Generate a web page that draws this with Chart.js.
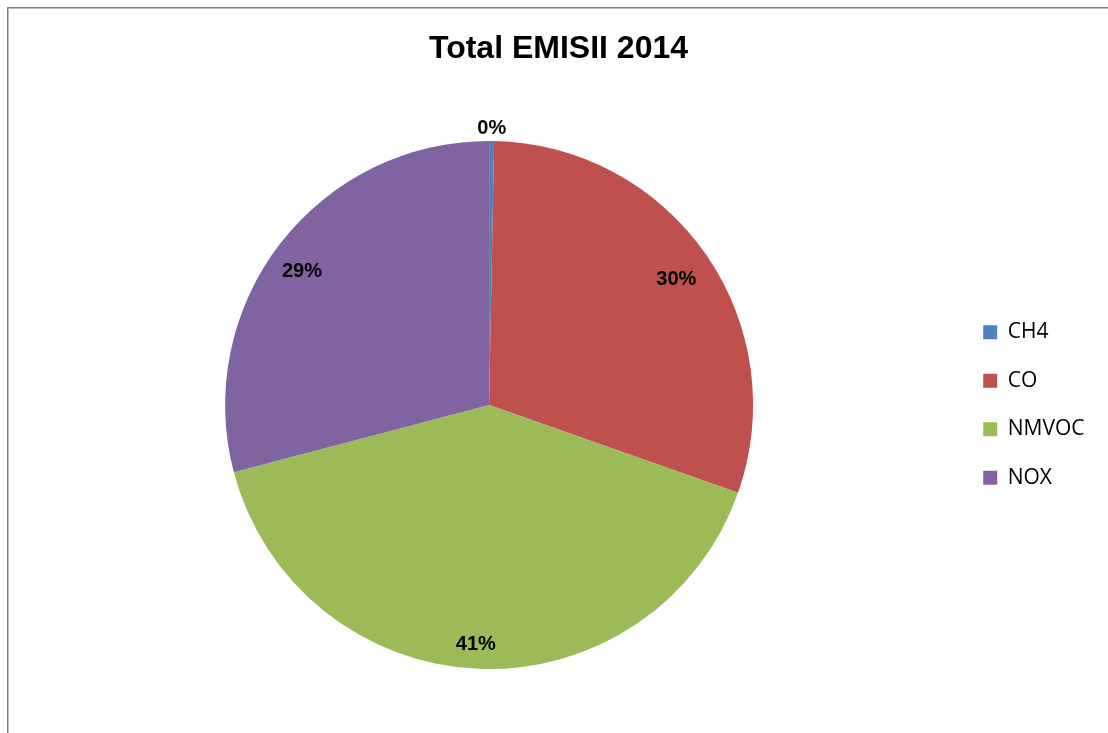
<!DOCTYPE html>
<html>
<head>
<meta charset="utf-8">
<script src="https://cdn.jsdelivr.net/npm/chart.js@4.4.0/dist/chart.umd.min.js"></script>
<style>
    html, body { margin: 0; padding: 0; background: #fff; }
    #wrap { position: relative; width: 1108px; height: 733px; overflow: hidden; }
    #frame {
        position: absolute; left: 7px; top: 7px; right: -10px; bottom: -10px;
        border-left: 1px solid #7f7f7f; border-top: 1px solid #7f7f7f;
        box-shadow: inset 1px 1px 0 #bdbdbd;
    }
    canvas { position: absolute; left: 0; top: 0; }
</style>
</head>
<body>
<div id="wrap">
    <div id="frame"></div>
    <canvas id="emisii-chart" width="1108" height="733"></canvas>
</div>
<script>
const labels = ['CH4', 'CO', 'NMVOC', 'NOX'];
const shares = [0.3, 30.1, 40.5, 29.1];
const colors = ['#4f81bd', '#c0504d', '#9bbb59', '#8064a2'];

// percent labels, placed along each slice's bisector (fraction of the radius)
const pctLabels = {
    id: 'pctLabels',
    afterDatasetsDraw(chart, args, opts) {
        const ctx = chart.ctx;
        const meta = chart.getDatasetMeta(0);
        const data = chart.data.datasets[0].data;
        const total = data.reduce((a, b) => a + b, 0);
        ctx.save();
        ctx.font = opts.font;
        ctx.fillStyle = '#000';
        ctx.textAlign = 'center';
        ctx.textBaseline = 'middle';
        meta.data.forEach((arc, i) => {
            const { x, y, startAngle, endAngle, outerRadius } = arc.getProps(['x', 'y', 'startAngle', 'endAngle', 'outerRadius'], true);
            const mid = (startAngle + endAngle) / 2 + (opts.turn[i] || 0);
            const r = outerRadius * opts.radius[i];
            const text = Math.round(data[i] / total * 100) + '%';
            ctx.fillText(text, x + Math.cos(mid) * r, y + Math.sin(mid) * r + opts.dy);
        });
        ctx.restore();
    }
};

const ctx = document.getElementById('emisii-chart').getContext('2d');
new Chart(ctx, {
    type: 'pie',
    data: {
        labels: labels,
        datasets: [{
            data: shares,
            backgroundColor: colors,
            borderWidth: 0,
            hoverOffset: 0
        }]
    },
    options: {
        responsive: false,
        animation: false,
        layout: {
            padding: { left: 22.5, right: 13.5, top: 0, bottom: 64 }
        },
        plugins: {
            title: {
                display: true,
                text: 'Total EMISII 2014',
                color: '#000',
                font: { family: '"Liberation Sans", Arial, sans-serif', size: 32, weight: 'bold' },
                padding: { top: 29.8, bottom: 72.8 }
            },
            legend: {
                position: 'right',
                fullSize: false,
                labels: {
                    color: '#000',
                    font: { family: '"Open Sans", sans-serif', size: 21 },
                    boxWidth: 14,
                    boxHeight: 14,
                    padding: 27.5
                }
            },
            tooltip: { enabled: false },
            pctLabels: {
                font: 'bold 20px "Liberation Sans", Arial, sans-serif',
                radius: [1.055, 0.857, 0.9, 0.875],
                turn: [0, 0.01, 0.015, -0.03],
                dy: 2
            }
        }
    },
    plugins: [pctLabels]
});
</script>
</body>
</html>
